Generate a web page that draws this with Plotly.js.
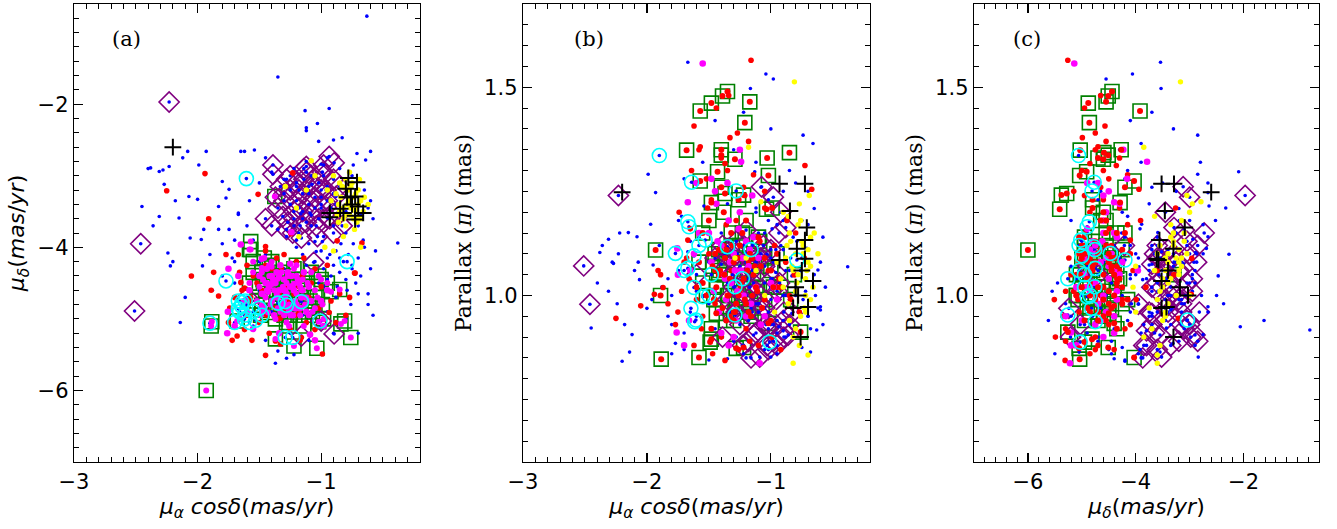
<!DOCTYPE html>
<html><head><meta charset="utf-8">
<script src="https://cdn.plot.ly/plotly-3.0.1.min.js"></script>
<style>html,body{margin:0;padding:0;background:#fff}#chart{width:1337px;height:529px}</style>
</head><body><div id="chart"></div>
<script>
// Each star: [pmRA cos(dec) (mas/yr), pmDec (mas/yr), parallax (mas)]
const fieldStars = [
[-0.63,-0.77,0.917],[-1.35,-1.62,0.940],[-0.38,-3.94,1.069],[-1.13,-2.09,1.297],[-0.935,-2.06,0.925],[-1.03,-2.27,1.099],[-1.12,-2.33,1.210],[-0.83,-2.47,1.047],[-0.71,-2.69,1.113],[-0.64,-2.78,1.000],[-1.67,-3.54,1.560],[-1.04,-4.06,1.532],[-0.98,-4.55,1.520],[-1.165,-3.53,1.497],
[-0.90,-2.50,1.000],[-0.60,-2.66,0.973],[-1.00,-2.84,0.852],[-1.02,-2.52,1.180],[-1.12,-2.37,0.980],
[-2.38,-2.89,1.103],[-2.31,-2.94,1.135],[-2.28,-2.92,1.080],[-2.23,-2.87,1.100],[-2.27,-3.12,1.077],[-2.45,-3.43,0.922],[-2.31,-3.57,1.010],[-2.24,-4.08,0.980],[-2.22,-4.26,1.150],[-2.20,-4.20,0.842],[-2.14,-5.05,0.864],[-2.15,-3.59,1.151],[-2.08,-2.66,1.141],[-2.12,-2.75,0.906],[-1.93,-2.66,1.247],[-1.99,-2.85,1.291],[-2.07,-3.29,1.080],[-2.00,-3.33,0.969],[-2.06,-3.87,1.038],[-1.97,-3.89,1.171],[-1.95,-3.75,1.073],[-1.96,-4.26,0.990],[-1.90,-4.10,1.120],[-1.83,-3.43,1.040],[-1.83,-3.75,0.950],[-1.745,-3.19,1.180],[-1.77,-3.31,0.885],[-1.67,-3.52,1.105],[-1.62,-2.66,1.270],[-1.54,-2.64,1.215],[-1.745,-3.75,1.060],[-1.70,-3.90,0.910],[-1.60,-3.70,1.010],[-1.58,-3.35,1.140],[-1.88,-4.60,1.020],[-1.80,-4.40,0.930],[-2.10,-4.70,1.060],[-1.72,-4.15,1.190],[-1.50,-3.10,0.980],[-1.45,-2.75,1.100],[-1.80,-3.08,1.000],[-1.65,-2.66,0.960],[-2.40,-2.90,1.030],[-2.36,-3.70,1.120],[-2.18,-3.35,0.930],
[-1.40,-2.95,1.050],[-1.30,-3.05,1.120],[-1.25,-3.40,1.000],[-1.20,-3.15,1.080],[-1.15,-3.60,0.960],[-1.10,-3.25,1.150],[-1.05,-3.00,1.030],[-1.00,-3.45,1.090],[-0.95,-3.15,0.990],[-0.90,-3.70,1.110],[-0.85,-2.90,1.060],[-0.80,-3.80,1.020],[-0.75,-3.00,1.180],[-0.70,-3.70,0.950],[-0.65,-3.20,1.209],[-0.62,-3.45,1.061],[-0.60,-3.35,0.965],[-0.58,-3.60,1.140],[-0.66,-3.90,1.365],[-0.74,-2.85,1.385],[-0.68,-3.55,0.864],[-1.35,-3.75,1.220],[-1.28,-3.85,0.900],[-1.18,-3.80,1.040],[-1.08,-3.70,1.260],[-0.98,-3.85,0.930],[-0.88,-3.40,1.000],[-1.22,-2.90,0.880],[-1.12,-2.80,1.320],[-0.95,-2.75,1.170],
[-1.20,-4.00,1.100],[-1.15,-4.10,1.050],[-1.10,-3.95,0.980],[-1.05,-4.20,1.150],[-1.00,-4.05,1.020],[-0.98,-4.30,1.080],[-0.95,-4.15,0.940],[-0.92,-4.40,1.120],[-0.90,-4.25,1.000],[-0.88,-4.05,1.060],[-0.85,-4.35,0.990],[-0.82,-4.20,1.140],[-0.80,-4.45,1.030],[-0.78,-4.10,0.960],[-0.75,-4.30,1.090],[-0.72,-4.50,1.010],[-0.70,-4.15,1.170],[-0.68,-4.40,0.920],[-0.65,-4.00,1.050],[-0.62,-4.65,0.970],[-1.08,-4.35,1.070],[-1.02,-4.50,0.960],[-0.96,-4.60,1.110],[-0.93,-4.10,1.040],[-0.87,-4.55,1.000],[-0.84,-3.95,1.090],[-0.79,-4.60,1.130],[-0.74,-3.95,0.990],[-1.12,-4.25,1.200],[-0.99,-3.92,1.160],[-0.88,-4.70,0.900],[-0.76,-4.80,1.060],[-0.60,-4.30,1.080],[-0.56,-4.05,1.020],[-0.58,-4.95,0.930],[-1.18,-4.45,0.890],[-1.05,-3.92,0.870],[-0.70,-4.65,1.250],
[-1.60,-4.80,0.950],[-1.55,-5.10,1.000],[-1.50,-4.60,1.080],[-1.45,-5.30,0.920],[-1.40,-4.90,1.150],[-1.35,-5.45,1.030],[-1.30,-4.70,0.890],[-1.25,-5.20,1.070],[-1.22,-5.50,0.860],[-1.15,-4.95,1.120],[-1.10,-5.30,0.980],[-1.00,-5.10,1.040],[-0.95,-4.90,0.910],[-0.90,-5.20,1.180],[-0.80,-5.00,1.000],[-0.70,-5.20,0.950],[-0.62,-4.80,1.100],[-1.37,-5.62,0.940],[-1.28,-5.55,1.010],[-1.70,-4.50,0.870],[-1.65,-5.00,1.130],
[-1.30,-4.30,1.350],[-1.22,-3.70,1.440],[-1.00,-3.30,1.400],[-0.85,-4.15,1.300],[-0.80,-3.50,1.270],[-1.45,-4.10,1.420],[-1.70,-4.20,1.280],[-1.55,-3.90,1.320],[-0.90,-3.25,1.250],[-1.02,-4.70,1.230],
[-1.50,-4.20,0.845],[-1.20,-3.90,0.850],[-0.95,-4.45,0.860],[-1.35,-4.40,0.848],[-0.75,-4.25,0.875],[-1.80,-3.95,0.860]
];
const redMembers = [
[-1.16,-5.26,1.565],[-1.62,-4.57,1.407],[-1.33,-4.99,1.379],[-1.57,-4.70,1.357],[-1.37,-4.85,1.317],[-0.725,-4.36,1.312],[-2.25,-3.21,0.945],[-1.94,-2.97,1.003],[-1.87,-4.35,1.019],[-1.67,-4.10,1.133],[-1.37,-5.31,0.844],[-1.91,-3.60,1.060],[-1.51,-3.26,1.210],[-1.23,-2.96,1.089],[-0.67,-3.94,1.255],[-0.87,-3.91,1.180],[-0.73,-4.36,1.090],[-0.77,-4.70,0.960],[-0.935,-4.91,1.040],[-0.99,-5.49,0.900],[-1.89,-4.60,1.050],[-1.83,-4.68,0.980],[-1.68,-5.24,1.090],[-1.65,-4.49,1.160],[-1.77,-4.10,0.930],[-1.45,-5.51,0.990],[-1.245,-3.81,1.020],[-1.45,-3.99,0.990],
[-1.60,-4.95,1.020],[-1.55,-4.40,0.950],[-1.50,-5.05,1.100],[-1.48,-4.60,1.230],[-1.45,-4.25,0.980],[-1.42,-5.20,1.050],[-1.40,-4.75,0.900],[-1.38,-4.45,1.120],[-1.35,-5.00,1.300],[-1.32,-4.30,1.060],[-1.30,-4.85,0.960],[-1.28,-4.55,1.180],[-1.25,-5.15,1.010],[-1.22,-4.65,1.260],[-1.20,-4.20,0.920],[-1.18,-4.90,1.080],[-1.15,-4.40,1.000],[-1.12,-5.05,1.140],[-1.10,-4.70,0.880],[-1.05,-4.30,1.210],[-1.02,-4.85,1.060],[-1.00,-4.55,0.940],[-0.97,-5.00,1.120],[-0.95,-4.25,1.020],[-1.58,-4.75,1.350],[-1.52,-4.50,1.280],[-1.44,-4.95,1.450],[-1.40,-4.30,1.330],[-1.27,-4.75,1.390],[-1.21,-4.95,1.240],[-1.62,-5.15,0.880],[-1.56,-5.30,0.920],[-1.47,-4.85,0.860],[-1.33,-5.35,0.950],[-1.26,-4.40,0.870],[-1.17,-5.30,0.890],[-1.08,-4.50,0.930],[-0.92,-4.75,0.870],[-1.70,-4.70,1.080],[-1.74,-4.85,1.200],[-1.66,-4.35,1.040],[-1.36,-4.15,1.170],[-1.14,-4.15,1.290],[-1.60,-4.25,0.990],[-0.88,-5.05,1.080],[-0.85,-4.65,1.000],[-0.80,-4.95,1.150],[-1.75,-5.05,0.960],[-1.72,-5.30,1.010],[-1.30,-4.10,1.100],[-1.45,-4.05,1.060],[-1.05,-5.15,1.250],[-1.34,-4.65,1.480],[-1.18,-4.55,1.370],[-1.64,-4.60,1.300],[-2.05,-4.40,0.975]
];
const magentaMembers = [
[-1.55,-5.14,1.557],[-1.24,-3.79,1.321],[-1.48,-4.16,1.280],[-1.25,-4.23,1.350],[-1.67,-4.40,1.224],[-1.755,-4.90,1.113],[-1.76,-5.20,0.911],[-1.09,-5.22,0.837],
[-1.50,-4.40,1.150],[-1.48,-4.65,1.080],[-1.46,-4.85,1.010],[-1.44,-4.30,1.220],[-1.42,-4.55,0.960],[-1.40,-4.75,1.120],[-1.38,-4.95,1.050],[-1.36,-4.35,0.990],[-1.34,-4.60,1.180],[-1.32,-4.80,1.030],[-1.30,-4.45,1.100],[-1.28,-4.65,0.940],[-1.26,-4.90,1.160],[-1.24,-4.40,1.060],[-1.22,-4.60,1.000],[-1.20,-4.80,1.130],[-1.18,-4.50,1.070],[-1.16,-4.70,0.980],[-1.14,-4.35,1.140],[-1.12,-4.90,1.020],[-1.10,-4.55,1.090],[-1.08,-4.75,0.930],[-1.45,-4.50,1.250],[-1.35,-4.70,1.270],[-1.25,-4.55,1.200],[-1.15,-4.60,1.240],[-1.40,-4.40,0.910],[-1.30,-4.60,0.900],[-1.20,-4.40,0.950],[-1.33,-4.25,1.080],[-1.23,-4.95,1.090],[-1.37,-4.50,1.040],[-1.27,-4.35,1.010],[-1.17,-4.85,1.110],[-1.43,-4.62,1.130],[-1.29,-4.82,1.060],
[-1.58,-4.60,1.150],[-1.62,-4.75,1.100],[-1.65,-3.96,1.060],[-1.00,-4.75,1.030],[-0.95,-4.60,0.990],[-1.05,-5.30,0.950],[-1.34,-5.20,0.880],[-0.98,-5.10,1.020],[-1.75,-4.30,1.050],[-1.70,-5.10,0.880],[-1.66,-5.00,0.940],[-1.60,-4.90,1.270]
];
const boxedMembers = [
[-1.35,-4.44,1.490],[-1.39,-4.51,1.479],[-1.48,-4.88,1.462],[-1.17,-4.55,1.465],[-1.57,-3.92,1.443],[-1.21,-4.86,1.415],[-1.40,-4.27,1.350],[-1.68,-5.03,1.349],[-0.85,-4.59,1.343],[-1.40,-4.51,1.337],[-1.29,-4.60,1.327],[-1.03,-4.70,1.330],[-1.43,-4.91,1.297],[-1.02,-5.04,1.288],[-1.57,-4.03,1.275],[-1.48,-4.29,1.223],[-1.035,-5.41,1.207],[-1.22,-5.38,1.241],[-1.37,-5.28,1.245],[-1.885,-5.04,0.847],[-1.58,-4.03,0.851],[-1.22,-4.51,0.875],[-1.48,-4.81,0.895],[-0.76,-5.26,0.912],[-1.36,-4.70,0.940],[-1.44,-4.50,0.957],[-1.93,-6.00,1.109],[-0.81,-5.03,1.050],[-1.375,-3.29,1.050],
[-1.50,-4.55,1.180],[-1.45,-4.70,1.100],[-1.42,-4.40,1.050],[-1.38,-4.60,1.200],[-1.35,-4.85,1.000],[-1.32,-4.35,1.150],[-1.30,-4.75,1.080],[-1.28,-4.50,0.980],[-1.25,-4.95,1.120],[-1.22,-4.30,1.040],[-1.20,-4.65,1.180],[-1.18,-4.85,0.960],[-1.15,-4.45,1.090],[-1.12,-4.70,1.020],[-1.10,-4.95,1.140],[-1.08,-4.35,1.070],[-1.05,-4.60,0.990],[-1.49,-4.95,0.888],[-1.28,-5.05,0.873],[-1.02,-4.40,0.933],[-1.40,-4.20,1.260],[-1.26,-4.80,1.230],[-1.55,-4.35,1.030],[-1.46,-4.15,0.990],[-0.99,-4.80,1.210],[-0.95,-4.50,1.100],[-0.84,-5.07,0.990],[-0.98,-5.00,1.020],[-1.89,-5.10,1.000],
[-1.44,-4.60,1.020],[-1.41,-4.80,1.060],[-1.39,-4.45,0.970],[-1.36,-4.65,1.110],[-1.34,-4.40,1.000],[-1.33,-4.90,1.040],[-1.31,-4.55,1.120],[-1.29,-4.70,0.960],[-1.27,-4.40,1.090],[-1.24,-4.85,1.030],[-1.23,-4.55,1.150],[-1.21,-4.75,0.990],[-1.19,-4.45,1.060],[-1.17,-4.95,1.100],[-1.16,-4.60,0.950],[-1.13,-4.80,1.070],[-1.11,-4.50,1.010],[-1.09,-4.75,1.130],[-1.07,-4.90,0.970],[-1.47,-4.45,1.070],[-1.52,-4.75,1.000],[-1.37,-5.00,1.090],[-1.26,-5.10,1.000],[-1.14,-5.10,1.050],[-1.00,-4.45,1.060],[-1.05,-4.85,1.090],[-1.42,-4.25,1.110],[-1.20,-4.25,0.980],[-1.30,-4.95,0.940],[-1.48,-4.35,0.920],[-0.92,-4.62,1.020],[-1.58,-4.50,1.080],[-1.55,-4.20,1.150]
];
const yellowStars = [
[-0.81,-3.17,1.513],[-1.18,-3.85,1.356],[-0.90,-3.00,1.200],[-0.85,-3.10,1.150],[-0.80,-3.05,1.100],[-0.78,-3.20,1.050],[-0.76,-3.15,1.180],[-0.74,-3.30,1.120],[-0.72,-3.25,1.000],[-0.70,-3.40,1.080],[-0.68,-3.35,1.140],[-0.66,-3.50,1.020],[-0.88,-3.25,1.090],[-0.86,-3.40,0.980],[-0.84,-3.30,1.130],[-0.82,-3.45,1.060],[-0.80,-3.55,1.010],[-0.78,-3.35,1.170],[-0.76,-3.45,0.950],[-0.74,-3.60,1.100],[-0.72,-3.50,1.040],[-0.70,-3.20,1.110],[-0.68,-3.60,0.990],[-0.83,-3.15,1.070],[-0.79,-3.40,1.030],[-0.75,-3.10,1.130],[-0.71,-3.65,1.060],[-0.87,-3.55,1.120],[-0.92,-3.35,1.040],[-0.95,-3.20,1.080],[-0.80,-3.70,0.920],[-0.73,-3.75,0.970],[-0.65,-3.30,1.150],[-0.62,-3.40,1.100],[-0.77,-2.95,1.220],[-0.86,-3.65,1.190],[-0.82,-3.85,0.900],[-0.69,-3.05,1.240],[-0.77,-3.55,0.880],[-0.85,-3.50,0.940],[-0.72,-3.45,0.960],[-0.82,-3.60,0.837],[-0.70,-3.60,0.857],[-1.12,-3.20,1.060],[-1.05,-3.00,1.000],[-1.20,-3.45,1.090],[-0.90,-4.05,1.020],[-0.68,-4.00,1.070],[-0.97,-4.00,0.960],[-1.29,-3.15,1.090],[-1.08,-2.79,1.225]
];
const cyanStars = [
[-1.90,-5.06,1.336],[-1.64,-4.77,1.272],[-1.28,-4.81,1.251],[-1.67,-4.86,1.177],[-1.66,-4.90,1.165],[-1.53,-5.02,1.133],[-1.35,-4.78,1.117],[-1.16,-4.76,1.110],[-1.77,-4.47,1.101],[-1.62,-5.00,1.095],[-0.79,-4.20,1.085],[-1.70,-5.05,1.060],[-1.67,-4.75,1.065],[-1.62,-4.95,1.019],[-1.29,-4.76,1.021],[-1.55,-4.90,0.997],[-1.645,-4.82,0.969],[-1.615,-4.75,0.937],[-1.29,-5.26,0.953],[-1.605,-3.04,0.941],[-1.01,-5.03,0.888],[-1.23,-5.26,1.040],[-1.50,-4.85,1.000],[-1.58,-5.05,1.120],[-1.48,-4.95,1.050]
];
const purpleStars = [
[-2.23,-1.97,1.240],[-2.51,-4.89,1.071],[-2.46,-3.95,0.979],
[-0.935,-2.73,1.150],[-1.39,-2.85,1.120],[-1.39,-2.98,0.900],[-1.12,-2.87,1.080],[-0.99,-2.95,1.040],[-0.895,-2.82,0.960],[-1.31,-3.57,1.050],[-1.27,-3.65,1.100],[-1.23,-3.80,0.880],[-1.16,-3.87,0.850],[-1.04,-3.70,0.930],[-0.83,-3.70,0.957],[-0.95,-3.59,1.010],[-0.88,-3.29,1.163],[-1.075,-3.12,1.261],[-0.98,-3.00,1.236],[-1.20,-3.10,1.157],[-1.25,-3.20,1.060],[-1.15,-3.25,1.000],[-1.10,-3.15,0.980],[-1.05,-3.30,1.070],[-1.00,-3.40,1.110],[-1.30,-3.35,1.020],[-1.18,-3.45,0.940],[-1.08,-3.55,1.090],[-1.35,-3.45,0.990],[-1.28,-3.05,1.130],[-1.22,-3.50,1.040],[-0.92,-3.45,1.200],[-1.12,-3.65,0.910],[-1.40,-3.70,1.075],[-0.96,-3.20,1.055],[-1.02,-3.60,0.870],[-1.14,-3.05,1.030],[-1.45,-3.60,1.090],[-0.86,-3.55,0.905],[-1.33,-3.15,0.960],[-1.09,-3.52,0.852],[-1.14,-2.90,0.905],
[-1.25,-3.00,0.930],[-1.18,-3.20,0.890],[-1.10,-3.40,0.960],[-1.02,-3.10,0.920],[-0.95,-3.35,0.880],[-0.90,-3.05,0.940],[-1.20,-3.35,1.000],[-1.08,-3.00,1.100],[-1.15,-3.50,1.060],[-1.30,-3.25,1.080],[-1.00,-3.20,0.990],[-0.93,-3.60,1.030],[-1.05,-3.45,0.970],[-1.22,-3.60,1.120],[-1.37,-3.30,1.100],[-1.12,-2.95,1.010],[-0.85,-3.15,0.930],[-1.28,-3.75,0.960],[-0.98,-2.85,0.890],[-1.17,-3.70,1.020],[-1.03,-3.85,0.880],[-0.90,-3.80,0.915],
[-1.06,-4.21,1.120],[-1.00,-5.03,0.930],[-0.895,-5.21,0.900],[-1.16,-5.24,0.969],[-1.60,-4.70,1.050]
];
const crossStars = [
[-2.20,-2.60,1.248],[-0.93,-3.52,1.268],[-0.725,-3.29,1.268],[-0.846,-3.46,1.203],[-0.71,-3.09,1.163],[-0.725,-3.56,1.133],[-0.79,-3.30,1.112],[-0.725,-3.61,1.088],[-0.93,-3.58,1.085],[-0.66,-3.52,1.035],[-0.80,-3.18,1.020],[-0.78,-3.03,1.000],[-0.82,-3.52,0.970],[-0.70,-3.43,0.972],[-0.76,-3.30,0.900],[-0.75,-3.40,1.060]
];
const panelLabels = ['(a)', '(b)', '(c)'];
const xTitles = ['<i>μ</i><sub><i>α</i></sub> <i>cosδ</i>(<i>mas</i>/<i>yr</i>)', '<i>μ</i><sub><i>α</i></sub> <i>cosδ</i>(<i>mas</i>/<i>yr</i>)', '<i>μ</i><sub><i>δ</i></sub>(<i>mas</i>/<i>yr</i>)'];
const yTitles = ['<i>μ</i><sub><i>δ</i></sub>(<i>mas</i>/<i>yr</i>)', 'Parallax (<i>π</i>) (mas)', 'Parallax (<i>π</i>) (mas)'];

const panels = [
  {xa: 'x', ya: 'y', xi: 0, yi: 1, boxDot: '#ff00ff'},
  {xa: 'x2', ya: 'y2', xi: 0, yi: 2, boxDot: '#ff0000'},
  {xa: 'x3', ya: 'y3', xi: 1, yi: 2, boxDot: '#ff0000'}
];
const col = (arr, i) => arr.map(r => r[i]);
const traces = [];
panels.forEach(p => {
  const add = (arr, marker) => traces.push({
    type: 'scatter', mode: 'markers', x: col(arr, p.xi), y: col(arr, p.yi),
    xaxis: p.xa, yaxis: p.ya, marker: marker, hoverinfo: 'skip', showlegend: false
  });
  add(boxedMembers, {symbol: 'square-open', size: 14, color: '#008000', line: {width: 1.6, color: '#008000'}});
  add(purpleStars, {symbol: 'diamond-open', size: 15.5, color: '#800080', line: {width: 1.6, color: '#800080'}});
  add(fieldStars, {symbol: 'circle', size: 3.6, color: '#0000ff', line: {width: 0}});
  add(purpleStars, {symbol: 'circle', size: 3.6, color: '#0000ff', line: {width: 0}});
  add(cyanStars, {symbol: 'circle', size: 3.6, color: '#0000ff', line: {width: 0}});
  add(redMembers, {symbol: 'circle', size: 5.6, color: '#ff0000', line: {width: 0}});
  add(magentaMembers, {symbol: 'circle', size: 6.6, color: '#ff00ff', line: {width: 0}});
  add(boxedMembers, {symbol: 'circle', size: 6, color: p.boxDot, line: {width: 0}});
  add(yellowStars, {symbol: 'circle', size: 5.4, color: '#ffff00', line: {width: 0}});
  add(cyanStars, {symbol: 'circle-open', size: 14, color: '#00ffff', line: {width: 1.6, color: '#00ffff'}});
  add(crossStars, {symbol: 'cross-thin-open', size: 12, color: '#000000', line: {width: 2, color: '#000000'}});
});

const yDom = [67 / 529, 525 / 529];
const xDoms = [[74 / 1337, 420 / 1337], [523 / 1337, 870 / 1337], [974 / 1337, 1319 / 1337]];
const xRanges = [[-3.0, -0.2], [-3.0, -0.2], [-7.0, -0.6]];
const yRanges = [[-7.0, -0.6], [0.6, 1.7], [0.6, 1.7]];
const xDticks = [1, 1, 2], xMinor = [0.1, 0.1, 0.2];
const yDticks = [2, 0.5, 0.5], yMinor = [0.2, 0.05, 0.05];
const sansTitle = {family: 'DejaVu Sans', size: 22, color: '#000'};
const serifTitle = {family: 'DejaVu Serif', size: 22, color: '#000'};

const layout = {
  width: 1337, height: 529, margin: {l: 0, r: 0, t: 0, b: 0},
  paper_bgcolor: '#fff', plot_bgcolor: '#fff', showlegend: false, hovermode: false,
  annotations: []
};
[0, 1, 2].forEach(k => {
  const s = k === 0 ? '' : String(k + 1);
  const common = {
    showgrid: false, zeroline: false, showline: true, linecolor: '#000', linewidth: 1.3,
    mirror: 'allticks', ticks: 'inside', ticklen: 9, tickwidth: 1.2, tickcolor: '#000',
    tickfont: {family: 'DejaVu Sans', size: 21, color: '#000'}, automargin: false, fixedrange: true
  };
  layout['xaxis' + s] = Object.assign({}, common, {
    domain: xDoms[k], range: xRanges[k], anchor: 'y' + s, dtick: xDticks[k], tick0: 0,
    minor: {dtick: xMinor[k], tick0: 0, ticks: 'inside', ticklen: 5, tickwidth: 1, tickcolor: '#000'},
    title: {text: xTitles[k], font: sansTitle, standoff: 4}
  });
  layout['yaxis' + s] = Object.assign({}, common, {
    domain: yDom, range: yRanges[k], anchor: 'x' + s, dtick: yDticks[k], tick0: 0,
    tickformat: k === 0 ? 'd' : '.1f',
    minor: {dtick: yMinor[k], tick0: 0, ticks: 'inside', ticklen: 5, tickwidth: 1, tickcolor: '#000'},
    title: {text: yTitles[k], font: k === 0 ? sansTitle : serifTitle, standoff: 6}
  });
  layout.annotations.push({
    text: panelLabels[k], xref: 'x' + s + ' domain', yref: 'y' + s + ' domain',
    x: [0.152, 0.19, 0.153][k], y: 0.924, xanchor: 'center', yanchor: 'middle', showarrow: false,
    font: {family: 'DejaVu Serif', size: 21, color: '#000'}
  });
});

Plotly.newPlot('chart', traces, layout, {staticPlot: true, displayModeBar: false});
</script>
</body></html>
